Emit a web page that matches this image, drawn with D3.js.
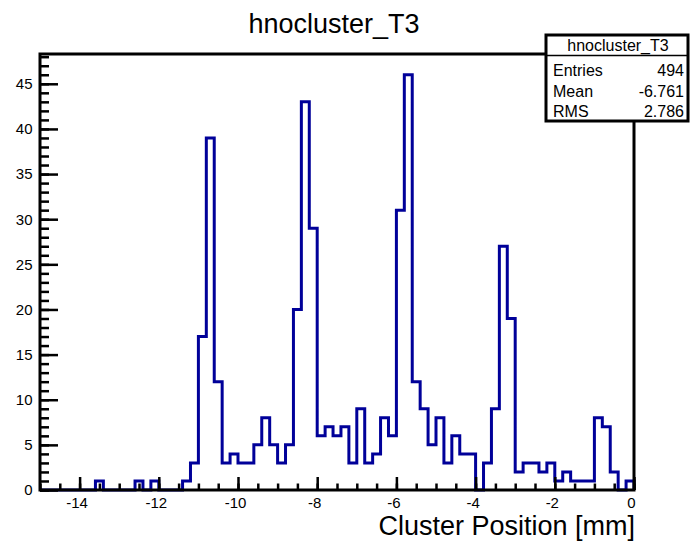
<!DOCTYPE html>
<html>
<head>
<meta charset="utf-8">
<script src="https://cdn.jsdelivr.net/npm/d3@7"></script>
<style>
  body { margin: 0; background: #fff; }
  svg { display: block; font-family: "Liberation Sans", Arial, Helvetica, sans-serif; }
</style>
</head>
<body>
<div class="graph-container"></div>
<script>
// histogram definition
var histName = 'hnocluster_T3';
var xTitle = 'Cluster Position [mm]';
var xMin = -15;
var xMax = 0;
var binWidth = 0.2;
var yMax = 48.3;

// bin contents, 75 bins of 0.2 mm from -15 to 0
var counts = [
  0, 0, 0, 0, 0, 0, 0, 1, 0, 0,
  0, 0, 1, 0, 1, 0, 0, 0, 1, 3,
  17, 39, 12, 3, 4, 3, 3, 5, 8, 5,
  3, 5, 20, 43, 29, 6, 7, 6, 7, 3,
  9, 3, 4, 8, 6, 31, 46, 12, 9, 5,
  8, 3, 6, 4, 4, 0, 3, 9, 27, 19,
  2, 3, 3, 2, 3, 1, 2, 1, 1, 1,
  8, 7, 2, 0, 1
];

var xTickValues = [-14, -12, -10, -8, -6, -4, -2, 0];
var yTickValues = [0, 5, 10, 15, 20, 25, 30, 35, 40, 45];

var statLabels = ['Entries', 'Mean', 'RMS'];
var statValues = ['494', '-6.761', '2.786'];

var svgWidth = 691;
var svgHeight = 542;
var frameLeft = 40, frameRight = 634, frameTop = 54, frameBottom = 490;
var histColor = '#000099';

var svg = d3.select('.graph-container').append('svg')
  .attr('width', svgWidth)
  .attr('height', svgHeight);

var xScale = d3.scaleLinear()
  .domain([xMin, xMax])
  .range([frameLeft, frameRight]);

var yScale = d3.scaleLinear()
  .domain([0, yMax])
  .range([frameBottom, frameTop]);

// title
svg.append('text')
  .attr('x', 334)
  .attr('y', 33)
  .style('text-anchor', 'middle')
  .style('font-size', '27px')
  .text(histName);

// histogram outline, drawn as steps
var points = [[xMin, 0]];
counts.forEach(function(c, i) {
  var lo = xMin + i * binWidth;
  points.push([lo, c]);
  points.push([lo + binWidth, c]);
});
points.push([xMax, 0]);

var line = d3.line()
  .x(function(d) { return xScale(d[0]); })
  .y(function(d) { return yScale(d[1]); });

svg.append('path')
  .datum(points)
  .attr('d', line)
  .attr('fill', 'none')
  .attr('stroke', histColor)
  .attr('stroke-width', 3)
  .attr('stroke-linejoin', 'miter');

// minor ticks
var xMinor = d3.range(xMin, xMax + 0.001, 0.5);
var yMinor = d3.range(0, yMax, 1);

var xMinorAxis = d3.axisBottom(xScale)
  .tickValues(xMinor)
  .tickSize(-6.5)
  .tickFormat('');
svg.append('g')
  .attr('transform', 'translate(0,' + frameBottom + ')')
  .call(xMinorAxis);

var yMinorAxis = d3.axisLeft(yScale)
  .tickValues(yMinor)
  .tickSize(-9)
  .tickFormat('');
svg.append('g')
  .attr('transform', 'translate(' + frameLeft + ',0)')
  .call(yMinorAxis);

// major ticks with labels
var xAxis = d3.axisBottom(xScale)
  .tickValues(xTickValues)
  .tickSize(-13)
  .tickPadding(7)
  .tickFormat(d3.format('d'));
var gx = svg.append('g')
  .attr('transform', 'translate(0,' + frameBottom + ')')
  .call(xAxis);
gx.selectAll('text')
  .attr('dx', -3)
  .style('font-size', '15px')
  .text(function(d) { return d === 0 ? '0' : String(d).replace('\u2212', '-'); });

var yAxis = d3.axisLeft(yScale)
  .tickValues(yTickValues)
  .tickSize(-18)
  .tickPadding(7.5)
  .tickFormat(d3.format('d'));
var gy = svg.append('g')
  .attr('transform', 'translate(' + frameLeft + ',0)')
  .call(yAxis);
gy.selectAll('text')
  .style('font-size', '15px');

svg.selectAll('.domain').remove();
svg.selectAll('.tick line')
  .attr('stroke', '#000')
  .attr('stroke-width', 2.5);
svg.selectAll('.tick text')
  .attr('fill', '#000')
  .style('font-family', '"Liberation Sans", Arial, Helvetica, sans-serif');

// frame
svg.append('rect')
  .attr('x', frameLeft)
  .attr('y', frameTop)
  .attr('width', frameRight - frameLeft)
  .attr('height', frameBottom - frameTop)
  .attr('fill', 'none')
  .attr('stroke', '#000')
  .attr('stroke-width', 3);

// x axis title
svg.append('text')
  .attr('x', frameRight + 1)
  .attr('y', 535)
  .style('text-anchor', 'end')
  .style('font-size', '27px')
  .text(xTitle);

// stats box
var box = svg.append('g');
box.append('rect')
  .attr('x', 546)
  .attr('y', 35)
  .attr('width', 142)
  .attr('height', 86)
  .attr('fill', '#fff')
  .attr('stroke', '#000')
  .attr('stroke-width', 3);
box.append('line')
  .attr('x1', 546).attr('x2', 688)
  .attr('y1', 55.5).attr('y2', 55.5)
  .attr('stroke', '#000')
  .attr('stroke-width', 1.5);
box.append('text')
  .attr('x', 618)
  .attr('y', 51)
  .style('text-anchor', 'middle')
  .style('font-size', '16px')
  .text(histName);

statLabels.forEach(function(label, i) {
  var y = 76 + i * 20.5;
  box.append('text')
    .attr('x', 553)
    .attr('y', y)
    .style('font-size', '16px')
    .text(label);
  box.append('text')
    .attr('x', 684)
    .attr('y', y)
    .style('text-anchor', 'end')
    .style('font-size', '16px')
    .text(statValues[i]);
});
</script>
</body>
</html>
